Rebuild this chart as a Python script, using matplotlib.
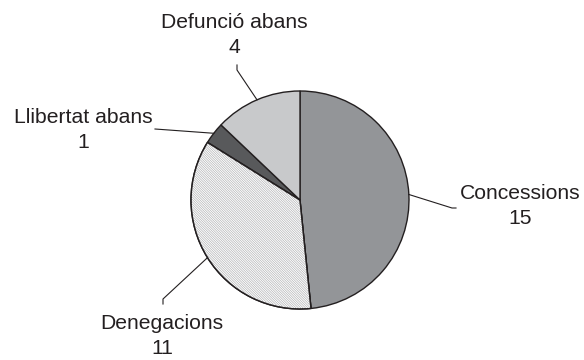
import numpy as np
import matplotlib
matplotlib.use("Agg")
import matplotlib.pyplot as plt
from matplotlib.patches import Wedge

labels = ["Concessions", "Denegacions", "Llibertat abans", "Defunció abans"]
values = [15, 11, 1, 4]
colors = ["#939598", "#ffffff", "#58595b", "#c8c9cb"]

plt.rcParams['font.family'] = ['Liberation Sans', 'DejaVu Sans']
plt.rcParams['hatch.linewidth'] = 0.5

W, H = 584, 360
fig = plt.figure(figsize=(W / 100, H / 100), dpi=100)
ax = fig.add_axes([0, 0, 1, 1])

cx, cy, r = 300, H - 200, 109
wedges, _ = ax.pie(values, colors=colors, startangle=90, counterclock=False,
                   center=(cx, cy), radius=r, frame=True,
                   wedgeprops=dict(edgecolor='#231f20', linewidth=1.0))
ax.set_xlim(0, W)
ax.set_ylim(0, H)
ax.axis('off')

# hatch for Denegacions
w = wedges[1]
hw = Wedge((cx, cy), r, w.theta1, w.theta2, facecolor='none',
           edgecolor='#b4b5b7', hatch='\\' * 14, linewidth=0, zorder=w.get_zorder() + 0.1)
ax.add_patch(hw)
ow = Wedge((cx, cy), r, w.theta1, w.theta2, facecolor='none',
           edgecolor='#231f20', linewidth=1.0, zorder=w.get_zorder() + 0.2)
ax.add_patch(ow)

# label layout: elbow, end of leader, text position (pixels, y from top)
layout = [
    ((452, 208), (456, 208), (520, 206)),
    ((163, 299), (163, 304), (162, 336)),
    ((155, 129), (155, 129), (83, 130)),
    ((237, 70), (237, 65), (234, 35)),
]

for wd, lab, val, (elb, end, tpos) in zip(wedges, labels, values, layout):
    mid = np.deg2rad((wd.theta1 + wd.theta2) / 2)
    sx, sy = cx + r * np.cos(mid), cy + r * np.sin(mid)
    ax.plot([sx, elb[0], end[0]], [sy, H - elb[1], H - end[1]],
            color='#231f20', lw=0.8, zorder=1)
    ax.text(tpos[0], H - tpos[1], f"{lab}\n{val}", ha='center', va='center',
            multialignment='center', fontsize=15.2, color='#231f20',
            linespacing=1.35)

fig.savefig("out.png", dpi=100)
